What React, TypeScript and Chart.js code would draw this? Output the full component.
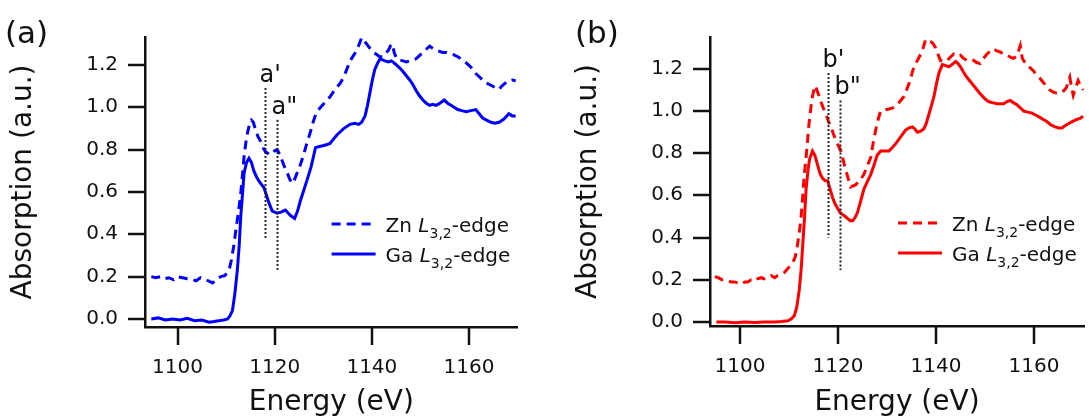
import React, { useEffect, useRef } from "react";
import { Chart, registerables } from "chart.js";

Chart.register(...registerables);

const FONT = "'DejaVu Sans', 'Liberation Sans', Arial, sans-serif";
const INK = "#111111";

// ---------- Panel (a) ----------
const aGaEnergy = [1094.6, 1096, 1097.5, 1099, 1100.5, 1102, 1103.5, 1105, 1106.5, 1107.5, 1108.5, 1109.5, 1110.3, 1110.8, 1111.3, 1111.8, 1112.3, 1112.7, 1113, 1113.4, 1113.7, 1114.2, 1114.7, 1115.2, 1115.7, 1116.3, 1116.8, 1117.3, 1117.8, 1118.3, 1118.8, 1119.5, 1120.5, 1121.3, 1122.2, 1122.8, 1123.2, 1124.1, 1124.7, 1125.3, 1126, 1126.7, 1127.5, 1128.4, 1129.2, 1130.1, 1130.8, 1131.4, 1132.1, 1132.8, 1133.5, 1134.2, 1135.5, 1136.5, 1137.3, 1137.9, 1138.6, 1139.1, 1139.6, 1140.1, 1140.6, 1141.2, 1141.7, 1142.2, 1142.7, 1143.4, 1144.0, 1144.6, 1145.1, 1145.8, 1146.4, 1147.1, 1147.8, 1148.4, 1149.1, 1149.8, 1150.5, 1151.2, 1151.9, 1152.5, 1153.2, 1154, 1154.9, 1155.6, 1156.3, 1157, 1157.7, 1158.5, 1159.4, 1160.4, 1161.4, 1162.1, 1162.8, 1163.6, 1164.5, 1165.3, 1166.2, 1167.2, 1168.2, 1168.9, 1169.6];
const aGaAbs = [0.0, 0.005, -0.005, 0.0, -0.005, 0.003, -0.008, -0.005, -0.015, -0.012, -0.008, -0.005, 0.0, 0.015, 0.04, 0.12, 0.23, 0.35, 0.48, 0.6, 0.69, 0.74, 0.76, 0.74, 0.7, 0.67, 0.65, 0.635, 0.62, 0.585, 0.55, 0.51, 0.5, 0.505, 0.515, 0.5, 0.49, 0.475, 0.51, 0.56, 0.61, 0.66, 0.72, 0.81, 0.815, 0.82, 0.825, 0.83, 0.85, 0.87, 0.885, 0.9, 0.92, 0.925, 0.92, 0.93, 0.96, 1.01, 1.07, 1.13, 1.18, 1.21, 1.23, 1.225, 1.22, 1.215, 1.22, 1.21, 1.2, 1.185, 1.17, 1.15, 1.13, 1.11, 1.08, 1.055, 1.035, 1.02, 1.01, 1.015, 1.01, 1.02, 1.035, 1.02, 1.01, 1.0, 0.99, 0.985, 0.98, 0.985, 0.99, 0.97, 0.95, 0.94, 0.93, 0.925, 0.93, 0.945, 0.97, 0.96, 0.96];

const aZnEnergy = [1094.6, 1095.5, 1096.5, 1097.3, 1098.2, 1099.2, 1100, 1101, 1102, 1102.8, 1103.8, 1104.7, 1105.5, 1106.4, 1107.2, 1108.1, 1108.9, 1109.7, 1110.3, 1110.7, 1111.1, 1111.6, 1112, 1112.5, 1113, 1113.4, 1113.7, 1114.1, 1114.4, 1114.8, 1115.2, 1115.6, 1116.1, 1116.6, 1117.1, 1117.6, 1118.1, 1118.8, 1119.5, 1120, 1120.5, 1121, 1121.5, 1122, 1122.6, 1123.1, 1123.6, 1124.1, 1124.6, 1125.3, 1126, 1126.6, 1127.3, 1127.9, 1128.4, 1128.9, 1129.4, 1130, 1130.7, 1131.4, 1132.1, 1132.8, 1133.5, 1134, 1134.5, 1135, 1135.5, 1136.2, 1136.9, 1137.4, 1137.9, 1138.3, 1138.6, 1139.1, 1139.6, 1140.3, 1141, 1141.6, 1142.3, 1142.8, 1143.4, 1143.8, 1144.2, 1144.6, 1145.1, 1145.7, 1146.4, 1147.1, 1147.8, 1148.4, 1149.1, 1149.8, 1150.5, 1151.2, 1151.9, 1152.5, 1153.2, 1153.9, 1154.6, 1155.3, 1156, 1156.8, 1157.7, 1158.3, 1159, 1159.7, 1160.4, 1160.9, 1161.4, 1162.1, 1162.8, 1163.6, 1164.5, 1165.3, 1166.2, 1166.7, 1167.2, 1168, 1168.9, 1169.6];
const aZnAbs = [0.2, 0.195, 0.2, 0.19, 0.195, 0.185, 0.2, 0.195, 0.19, 0.19, 0.18, 0.195, 0.185, 0.18, 0.17, 0.19, 0.2, 0.205, 0.22, 0.24, 0.28, 0.35, 0.42, 0.5, 0.59, 0.69, 0.77, 0.84, 0.88, 0.92, 0.94, 0.93, 0.89, 0.86, 0.84, 0.81, 0.79, 0.78, 0.78, 0.795, 0.8, 0.78, 0.75, 0.72, 0.69, 0.66, 0.64, 0.66, 0.69, 0.73, 0.78, 0.83, 0.88, 0.93, 0.965, 0.985, 1.0, 1.015, 1.035, 1.05, 1.075, 1.095, 1.115, 1.135, 1.16, 1.19, 1.22, 1.245, 1.27, 1.3, 1.33, 1.32, 1.31, 1.295, 1.28, 1.26, 1.25, 1.24, 1.24, 1.255, 1.27, 1.29, 1.3, 1.26, 1.23, 1.225, 1.22, 1.215, 1.22, 1.225, 1.23, 1.245, 1.26, 1.275, 1.29, 1.28, 1.27, 1.265, 1.26, 1.26, 1.255, 1.25, 1.24, 1.23, 1.22, 1.205, 1.19, 1.175, 1.16, 1.145, 1.13, 1.115, 1.105, 1.095, 1.085, 1.1, 1.11, 1.125, 1.13, 1.125];

const aMarkerEnergy = [1117.9, 1120.4];
const aMarkerTop = [1.092, 0.941];
const aMarkerBottom = [0.383, 0.232];
const aMarkerNames = ["a'", 'a"'];

// ---------- Panel (b) ----------
const bGaEnergy = [1095.2, 1097, 1099, 1101, 1103, 1105, 1107, 1108.5, 1109.8, 1110.5, 1111.1, 1111.6, 1112.1, 1112.5, 1112.8, 1113.2, 1113.5, 1113.9, 1114.2, 1114.8, 1115.3, 1115.9, 1116.4, 1116.9, 1117.4, 1117.9, 1118.4, 1118.9, 1119.4, 1119.9, 1120.4, 1120.9, 1121.5, 1122, 1122.5, 1123, 1123.5, 1124, 1124.6, 1125.3, 1126, 1126.7, 1127.3, 1128, 1128.7, 1129.5, 1130.4, 1131.2, 1132.1, 1133, 1133.8, 1134.5, 1135.2, 1135.7, 1136.2, 1136.9, 1137.5, 1138, 1138.5, 1139, 1139.6, 1140.1, 1140.6, 1141.3, 1142, 1142.6, 1143.3, 1144, 1144.5, 1145, 1145.6, 1146.3, 1147, 1147.7, 1148.4, 1149.1, 1149.9, 1150.7, 1151.5, 1152.4, 1153.1, 1153.8, 1154.5, 1155.1, 1155.8, 1156.5, 1157.2, 1157.9, 1158.7, 1159.6, 1160.4, 1161.2, 1161.9, 1162.6, 1163.4, 1164.3, 1165, 1165.7, 1166.3, 1167, 1167.8, 1168.7, 1169.4, 1170];
const bGaAbs = [0.0, 0.0, -0.003, 0.0, -0.002, 0.0, 0.0, 0.002, 0.006, 0.015, 0.03, 0.07, 0.15, 0.25, 0.36, 0.5, 0.63, 0.72, 0.77, 0.81, 0.79, 0.74, 0.7, 0.68, 0.67, 0.67, 0.63, 0.59, 0.56, 0.54, 0.52, 0.51, 0.5, 0.49, 0.48, 0.48, 0.495, 0.52, 0.57, 0.63, 0.665, 0.7, 0.74, 0.79, 0.81, 0.81, 0.81, 0.83, 0.855, 0.885, 0.91, 0.92, 0.925, 0.915, 0.9, 0.905, 0.915, 0.94, 0.98, 1.02, 1.07, 1.13, 1.18, 1.22, 1.215, 1.21, 1.22, 1.235, 1.225, 1.21, 1.185, 1.16, 1.14, 1.12, 1.1, 1.08, 1.06, 1.045, 1.04, 1.035, 1.035, 1.035, 1.045, 1.05, 1.04, 1.03, 1.015, 1.0, 0.995, 0.99, 0.98, 0.97, 0.96, 0.95, 0.935, 0.925, 0.92, 0.92, 0.93, 0.94, 0.95, 0.96, 0.965, 0.975];

const bZnEnergy = [1094.9, 1095.6, 1096.3, 1096.9, 1097.6, 1098.2, 1098.9, 1099.6, 1100.3, 1101, 1101.6, 1102.3, 1103, 1103.6, 1104.3, 1105, 1105.7, 1106.4, 1107.1, 1107.7, 1108.4, 1109.1, 1109.8, 1110.3, 1110.8, 1111.3, 1111.7, 1112.1, 1112.5, 1112.8, 1113.1, 1113.5, 1113.8, 1114.1, 1114.5, 1114.8, 1115.2, 1115.5, 1115.7, 1116.1, 1116.5, 1117, 1117.5, 1118, 1118.6, 1119.1, 1119.6, 1120.1, 1120.6, 1121.1, 1121.6, 1122.1, 1122.6, 1123.1, 1123.6, 1124, 1124.6, 1125.3, 1126, 1126.7, 1127.2, 1127.7, 1128.2, 1128.7, 1129.5, 1130.4, 1131.2, 1132.1, 1132.8, 1133.5, 1134, 1134.5, 1135, 1135.5, 1136.2, 1136.9, 1137.4, 1137.9, 1138.4, 1138.9, 1139.4, 1139.9, 1140.4, 1140.9, 1141.6, 1142.3, 1142.9, 1143.6, 1144.3, 1145, 1145.6, 1146.3, 1147, 1147.7, 1148.3, 1149, 1149.7, 1150.4, 1151.1, 1151.8, 1152.4, 1153.1, 1153.8, 1154.5, 1155.2, 1155.8, 1156.5, 1157.2, 1157.6, 1158, 1158.5, 1159.2, 1159.9, 1160.5, 1161.2, 1161.9, 1162.6, 1163.2, 1163.9, 1164.6, 1165.3, 1166, 1166.6, 1167, 1167.3, 1167.6, 1168, 1168.5, 1169, 1169.5, 1170];
const bZnAbs = [0.215, 0.21, 0.2, 0.2, 0.195, 0.19, 0.19, 0.185, 0.18, 0.19, 0.19, 0.2, 0.195, 0.205, 0.21, 0.205, 0.215, 0.22, 0.21, 0.22, 0.225, 0.235, 0.255, 0.265, 0.28, 0.31, 0.36, 0.42, 0.5, 0.59, 0.69, 0.78, 0.86, 0.94, 1.02, 1.07, 1.11, 1.12, 1.1, 1.075, 1.045, 1.015, 0.99, 0.955, 0.925, 0.89, 0.86, 0.835, 0.81, 0.765, 0.72, 0.68, 0.64, 0.645, 0.65, 0.66, 0.675, 0.7, 0.74, 0.78, 0.85, 0.91, 0.96, 1.0, 1.005, 1.01, 1.015, 1.03, 1.05, 1.07, 1.1, 1.13, 1.17, 1.21, 1.24, 1.27, 1.3, 1.34, 1.335, 1.33, 1.32, 1.3, 1.27, 1.24, 1.235, 1.24, 1.255, 1.27, 1.26, 1.265, 1.25, 1.24, 1.245, 1.24, 1.23, 1.225, 1.25, 1.27, 1.285, 1.295, 1.285, 1.28, 1.27, 1.265, 1.255, 1.25, 1.26, 1.31, 1.25, 1.235, 1.225, 1.205, 1.19, 1.17, 1.155, 1.135, 1.115, 1.1, 1.09, 1.085, 1.085, 1.095, 1.11, 1.14, 1.16, 1.12, 1.075, 1.11, 1.145, 1.12, 1.1];

const bMarkerEnergy = [1117.9, 1120.5];
const bMarkerTop = [1.18, 1.05];
const bMarkerBottom = [0.4, 0.246];
const bMarkerNames = ["b'", 'b"'];

// shared texts / ticks
const seriesElements = ["Zn", "Ga"];
const edgeName = "L";
const edgeSub = "3,2";
const edgeSuffix = "-edge";
const xTickValues = [1100, 1120, 1140, 1160];
const yTickValues = [0, 0.2, 0.4, 0.6, 0.8, 1.0, 1.2];

type PanelDef = {
  tag: string;
  tagX: number;
  color: string;
  znE: number[];
  znV: number[];
  gaE: number[];
  gaV: number[];
  xMin: number;
  xMax: number;
  yMin: number;
  yMax: number;
  xHeight: number;
  mE: number[];
  mTop: number[];
  mBot: number[];
  mNames: string[];
};

const panels: PanelDef[] = [
  {
    tag: "(a)", tagX: 5, color: "#0000ff",
    znE: aZnEnergy, znV: aZnAbs, gaE: aGaEnergy, gaV: aGaAbs,
    xMin: 1093.3, xMax: 1170.0, yMin: -0.038, yMax: 1.333, xHeight: 92,
    mE: aMarkerEnergy, mTop: aMarkerTop, mBot: aMarkerBottom, mNames: aMarkerNames,
  },
  {
    tag: "(b)", tagX: 10, color: "#ff0000",
    znE: bZnEnergy, znV: bZnAbs, gaE: bGaEnergy, gaV: bGaAbs,
    xMin: 1093.9, xMax: 1170.2, yMin: -0.019, yMax: 1.351, xHeight: 93,
    mE: bMarkerEnergy, mTop: bMarkerTop, mBot: bMarkerBottom, mNames: bMarkerNames,
  },
];

const dashes = [[9, 6], []];
const Y_TICK_LEN = 17;
const X_TICK_LEN = 18;

function makeOverlay(p: PanelDef) {
  return {
    id: "overlay",
    afterDraw(chart: any) {
      const { ctx, chartArea, scales } = chart;
      const xs = scales.x;
      const ys = scales.y;
      ctx.save();
      // outward tick marks and y tick labels
      ctx.strokeStyle = INK;
      ctx.fillStyle = INK;
      ctx.lineWidth = 2.5;
      ctx.setLineDash([]);
      ctx.font = `20px ${FONT}`;
      ctx.textAlign = "right";
      ctx.textBaseline = "middle";
      yTickValues.forEach((v) => {
        const py = Math.round(ys.getPixelForValue(v));
        ctx.beginPath();
        ctx.moveTo(chartArea.left - Y_TICK_LEN, py);
        ctx.lineTo(chartArea.left, py);
        ctx.stroke();
        ctx.fillText(v.toFixed(1), chartArea.left - Y_TICK_LEN - 10, py);
      });
      xTickValues.forEach((v) => {
        const px = Math.round(xs.getPixelForValue(v));
        ctx.beginPath();
        ctx.moveTo(px, chartArea.bottom);
        ctx.lineTo(px, chartArea.bottom + X_TICK_LEN);
        ctx.stroke();
      });
      // dotted marker lines + labels
      p.mE.forEach((e, i) => {
        const px = Math.round(xs.getPixelForValue(e)) + 0.5;
        const top = ys.getPixelForValue(p.mTop[i]);
        const bot = ys.getPixelForValue(p.mBot[i]);
        ctx.strokeStyle = "#222";
        ctx.lineWidth = 2;
        ctx.setLineDash([2, 2]);
        ctx.beginPath();
        ctx.moveTo(px, top);
        ctx.lineTo(px, bot);
        ctx.stroke();
        ctx.setLineDash([]);
        ctx.fillStyle = INK;
        ctx.font = `24px ${FONT}`;
        ctx.textAlign = "left";
        ctx.textBaseline = "alphabetic";
        ctx.fillText(p.mNames[i], px - 6, top - 6);
      });
      // legend
      const sx = chartArea.right - 186;
      const rowsY = [chartArea.bottom - 103, chartArea.bottom - 73];
      chart.data.datasets.forEach((ds: any, i: number) => {
        const ry = rowsY[i];
        ctx.strokeStyle = ds.borderColor;
        ctx.lineWidth = 3;
        ctx.setLineDash(dashes[i]);
        ctx.beginPath();
        ctx.moveTo(sx, ry);
        ctx.lineTo(sx + 44, ry);
        ctx.stroke();
        ctx.setLineDash([]);
        ctx.fillStyle = INK;
        ctx.textAlign = "left";
        ctx.textBaseline = "alphabetic";
        const base = ry + 7.5;
        let tx = sx + 54;
        const parts = [
          { t: seriesElements[i] + " ", f: `20px ${FONT}`, dy: 0 },
          { t: edgeName, f: `italic 20px ${FONT}`, dy: 0 },
          { t: edgeSub, f: `14px ${FONT}`, dy: 6 },
          { t: edgeSuffix, f: `20px ${FONT}`, dy: 0 },
        ];
        parts.forEach((pt) => {
          ctx.font = pt.f;
          ctx.fillText(pt.t, tx, base + pt.dy);
          tx += ctx.measureText(pt.t).width;
        });
      });
      // panel tag
      ctx.fillStyle = INK;
      ctx.font = `31px ${FONT}`;
      ctx.textAlign = "left";
      ctx.textBaseline = "alphabetic";
      ctx.fillText(p.tag, p.tagX, 43);
      ctx.restore();
    },
  };
}

function Panel({ p, left }: { p: PanelDef; left: number }) {
  const ref = useRef<HTMLCanvasElement | null>(null);
  useEffect(() => {
    if (!ref.current) return;
    const zn = p.znE.map((e, i) => ({ x: e, y: p.znV[i] }));
    const ga = p.gaE.map((e, i) => ({ x: e, y: p.gaV[i] }));
    const chart = new Chart(ref.current, {
      type: "line",
      data: {
        datasets: [
          {
            label: "Zn L3,2-edge",
            data: zn,
            borderColor: p.color,
            borderWidth: 3,
            borderDash: dashes[0],
            pointRadius: 0,
            tension: 0,
            fill: false,
          },
          {
            label: "Ga L3,2-edge",
            data: ga,
            borderColor: p.color,
            borderWidth: 3,
            pointRadius: 0,
            tension: 0,
            fill: false,
          },
        ],
      },
      options: {
        animation: false,
        responsive: false,
        maintainAspectRatio: false,
        layout: { padding: { top: 37, left: 0, right: 4, bottom: 0 } },
        plugins: {
          legend: { display: false },
          title: { display: false },
          tooltip: { enabled: false },
        },
        scales: {
          x: {
            type: "linear",
            min: p.xMin,
            max: p.xMax,
            afterBuildTicks: (s: any) => {
              s.ticks = xTickValues.map((v) => ({ value: v }));
            },
            ticks: {
              color: INK,
              font: { family: FONT, size: 20 },
              padding: X_TICK_LEN + 11,
              maxRotation: 0,
              autoSkip: false,
              callback: (v: any) => String(v),
            },
            grid: { display: false, drawTicks: false, tickLength: 0 },
            border: { display: true, color: INK, width: 2.5 },
            title: {
              display: true,
              text: "Energy (eV)",
              color: INK,
              font: { family: FONT, size: 28 },
              padding: { top: 0, bottom: -1 },
            },
            afterFit: (s: any) => {
              s.height = p.xHeight;
            },
          },
          y: {
            type: "linear",
            min: p.yMin,
            max: p.yMax,
            afterBuildTicks: (s: any) => {
              s.ticks = yTickValues.map((v) => ({ value: v }));
            },
            ticks: { display: false },
            grid: { display: false, drawTicks: false, tickLength: 0 },
            border: { display: true, color: INK, width: 2.5 },
            title: {
              display: true,
              text: "Absorption (a.u.)",
              color: INK,
              font: { family: FONT, size: 28 },
              padding: { top: 7, bottom: 0 },
            },
            afterFit: (s: any) => {
              s.width = 145;
            },
          },
        },
      },
      plugins: [makeOverlay(p)],
    } as any);
    return () => chart.destroy();
  }, [p]);
  return (
    <canvas
      ref={ref}
      width={524}
      height={419}
      style={{ position: "absolute", left, top: 0, width: 524, height: 419 }}
    />
  );
}

export default function App() {
  return (
    <div
      style={{
        position: "fixed",
        left: 0,
        top: 0,
        width: 1089,
        height: 419,
        background: "#ffffff",
        overflow: "hidden",
      }}
    >
      <Panel p={panels[0]} left={0} />
      <Panel p={panels[1]} left={565} />
    </div>
  );
}
